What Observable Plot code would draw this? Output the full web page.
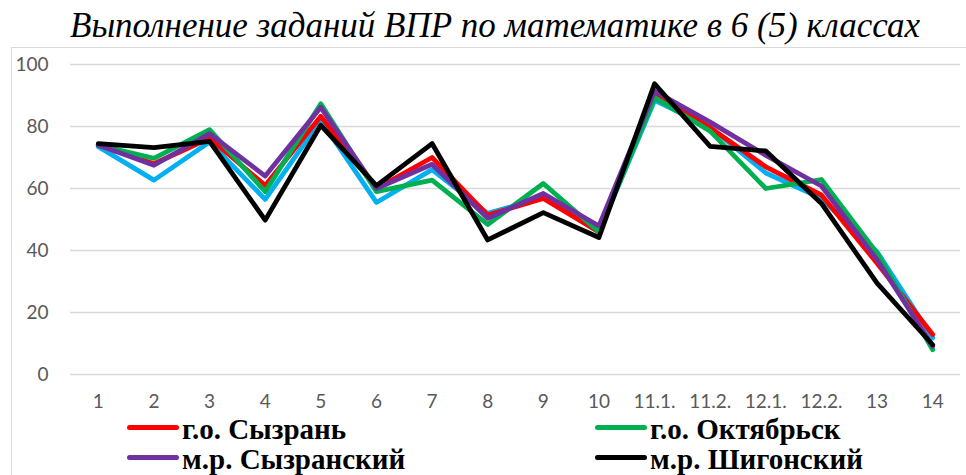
<!DOCTYPE html>
<html>
<head>
<meta charset="utf-8">
<script src="https://cdn.jsdelivr.net/npm/d3@7"></script>
<script src="https://cdn.jsdelivr.net/npm/@observablehq/plot@0.6"></script>
<style>
  html, body { margin: 0; padding: 0; background: #fff; }
  #page { position: relative; width: 966px; height: 475px; overflow: hidden; background: #fff; }
  #title { position: absolute; top: 8.4px; left: 495px; transform: translateX(-50%); white-space: nowrap;
           font-family: "Liberation Serif", Tinos, "Times New Roman", Times, "DejaVu Serif", serif; font-style: italic; font-size: 35px; line-height: 35px; color: #000; }
  #box { position: absolute; left: 11px; top: 47px; width: 980px; height: 450px; border: 1px solid #d9d9d9; box-sizing: border-box; }
  #chart { position: absolute; left: 0; top: 47px; }
  .lg-line { position: absolute; height: 5px; border-radius: 2.5px; }
  .lg-text { position: absolute; white-space: nowrap; font-family: "Liberation Serif", Tinos, "Times New Roman", Times, "DejaVu Serif", serif;
             font-weight: bold; font-size: 29px; line-height: 20px; height: 20px; color: #000; }
</style>
</head>
<body>
<div id="page">
  <div id="box"></div>
  <div id="title">Выполнение заданий ВПР по математике в 6 (5) классах</div>
  <div id="chart"></div>
  <div id="legend"></div>
</div>
<script>
const categories = ["1","2","3","4","5","6","7","8","9","10","11.1.","11.2.","12.1.","12.2.","13","14"];
const yTicks = [0, 20, 40, 60, 80, 100];

const seriesNames = ["Самарская область", "г.о. Сызрань", "г.о. Октябрьск", "м.р. Сызранский", "м.р. Шигонский"];
const seriesColors = ["#00B0F0", "#FF0000", "#00B050", "#7030A0", "#000000"];
const legendNames = ["г.о. Сызрань", "г.о. Октябрьск", "м.р. Сызранский", "м.р. Шигонский"];

const valuesRegion   = [73.5, 62.7, 75.0, 56.5, 82.0, 55.5, 66.1, 52.0, 57.0, 46.0, 88.4, 79.8, 65.0, 56.8, 39.6, 11.8];
const valuesSyzran   = [74.0, 68.0, 76.2, 61.0, 83.3, 60.0, 70.0, 51.4, 56.8, 46.0, 91.0, 79.6, 67.0, 57.9, 35.9, 12.9];
const valuesOktyabr  = [74.0, 69.7, 79.0, 59.0, 87.3, 59.0, 62.7, 48.4, 61.6, 46.0, 89.3, 78.5, 60.0, 62.9, 39.1, 8.0];
const valuesSyzrDist = [74.0, 67.5, 77.7, 64.0, 86.2, 60.0, 67.8, 50.4, 58.4, 47.9, 91.4, 81.4, 70.7, 60.8, 37.0, 9.1];
const valuesShigony  = [74.5, 73.2, 75.2, 49.8, 80.4, 60.9, 74.5, 43.4, 52.2, 44.2, 93.8, 73.6, 72.1, 55.2, 29.5, 9.6];

const seriesValues = [valuesRegion, valuesSyzran, valuesOktyabr, valuesSyzrDist, valuesShigony];

const rows = seriesNames.map((name, i) =>
  categories.map((c, j) => ({series: name, cat: c, value: seriesValues[i][j]}))
);

const chart = Plot.plot({
  width: 966,
  height: 368,
  marginLeft: 70,
  marginRight: 6,
  marginTop: 17,
  marginBottom: 41,
  style: {fontFamily: "Lato", fontSize: "19px", color: "#595959", background: "transparent"},
  x: {type: "point", domain: categories, padding: 0.5, round: false, label: null},
  y: {domain: [0, 100], label: null},
  color: {domain: seriesNames, range: seriesColors},
  marks: [
    Plot.ruleY(yTicks, {stroke: "#d9d9d9", strokeWidth: 1.3}),
    Plot.axisY({ticks: yTicks, tickSize: 0, tickPadding: 22, label: null, fontSize: 19, fill: "#595959"}),
    Plot.axisX({tickSize: 0, tickPadding: 20, label: null, fontSize: 19, fill: "#595959"}),
    ...rows.map(r => Plot.line(r, {x: "cat", y: "value", stroke: "series", strokeWidth: 4.8,
                                   strokeLinejoin: "round", strokeLinecap: "round"}))
  ]
});
document.getElementById("chart").appendChild(chart);

// legend
const legendPos = [
  {lineX: 127, textX: 182, lineY: 427, top: 419.0},
  {lineX: 595, textX: 650, lineY: 427, top: 419.0},
  {lineX: 127, textX: 182, lineY: 457, top: 448.5},
  {lineX: 595, textX: 650, lineY: 457, top: 448.5}
];
const legend = document.getElementById("legend");
legendNames.forEach((name, i) => {
  const p = legendPos[i];
  const color = chart.scale("color").apply(name);
  const ln = document.createElement("div");
  ln.className = "lg-line";
  ln.style.left = p.lineX + "px";
  ln.style.width = "52px";
  ln.style.top = (p.lineY - 2.5) + "px";
  ln.style.background = color;
  legend.appendChild(ln);
  const tx = document.createElement("div");
  tx.className = "lg-text";
  tx.style.left = p.textX + "px";
  tx.style.top = p.top + "px";
  tx.textContent = name;
  legend.appendChild(tx);
});
</script>
</body>
</html>
